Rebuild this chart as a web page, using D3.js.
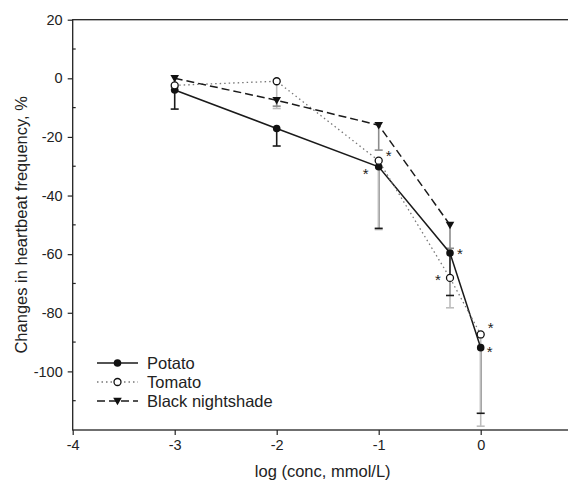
<!DOCTYPE html>
<html>
<head>
<meta charset="utf-8">
<script src="https://cdn.jsdelivr.net/npm/d3@7/dist/d3.min.js"></script>
<style>
  html, body { margin: 0; padding: 0; background: #fff; }
  svg { display: block; overflow: hidden; }
</style>
</head>
<body>
<div id="chart"></div>
<script>
// log10 of concentration (mmol/L)
const logConc = [-3, -2, -1, -0.301, 0];

const potatoVals = [-4, -17.1, -30.2, -59.6, -91.9];
const potatoErr = [6.5, 6, 21, 14.5, 22.4];
const potatoSig = [false, false, true, true, true];

const tomatoVals = [-2.4, -1, -28.1, -68.1, -87.4];
const tomatoErr = [1.5, 9.3, 23.5, 10.2, 31.3];
const tomatoSig = [false, false, true, true, true];

const nightVals = [0, -7.5, -16, -50, null];
const nightErr = [3, 2, 8.5, 8, null];
const nightSig = [false, false, false, false, false];

const xTicks = [-4, -3, -2, -1, 0];
const yTicks = [-100, -80, -60, -40, -20, 0, 20];
const yMinorTicks = [-110, -90, -70, -50, -30, -10, 10];

const W = 568, H = 483;
const margin = { top: 19.7, left: 72.7 };
const plotW = 510, plotH = 410.3;
const font = 'Liberation Sans, Arial, sans-serif';

const svg = d3.select('#chart').append('svg')
  .attr('width', W).attr('height', H)
  .attr('font-family', font);

const g = svg.append('g').attr('transform', `translate(${margin.left},${margin.top})`);

const x = d3.scaleLinear().domain([-4, 1]).range([0, plotW]);
const y = d3.scaleLinear().domain([-120, 20]).range([plotH, 0]);

// Frame (right side falls outside the picture)
g.append('rect').attr('width', plotW).attr('height', plotH)
  .attr('fill', 'none').attr('stroke', '#222').attr('stroke-width', 1.3);

// Axes
g.append('g').attr('transform', `translate(0,${plotH})`)
  .call(d3.axisBottom(x).tickValues(xTicks).tickSize(5).tickPadding(5).tickFormat(d => String(d)))
  .call(ax => ax.select('.domain').remove())
  .call(ax => ax.selectAll('line').attr('stroke', '#222').attr('stroke-width', 1.2))
  .call(ax => ax.selectAll('text').attr('fill', '#222').attr('font-size', 14.5).attr('font-family', font));

g.append('g')
  .call(d3.axisLeft(y).tickValues(yTicks).tickSize(5).tickPadding(5).tickFormat(d => String(d)))
  .call(ax => ax.select('.domain').remove())
  .call(ax => ax.selectAll('line').attr('stroke', '#222').attr('stroke-width', 1.2))
  .call(ax => ax.selectAll('text').attr('fill', '#222').attr('font-size', 14.5).attr('font-family', font));

// minor ticks inside
g.append('g')
  .selectAll('line').data(yMinorTicks).join('line')
  .attr('x1', 0).attr('x2', 3).attr('y1', d => y(d)).attr('y2', d => y(d))
  .attr('stroke', '#222').attr('stroke-width', 1.2);

// Axis titles
g.append('text').attr('x', plotW / 2 - 5).attr('y', plotH + 47)
  .attr('text-anchor', 'middle').attr('font-size', 16.5).attr('fill', '#222')
  .text('log (conc, mmol/L)');
svg.append('text').attr('transform', `translate(27,${margin.top + plotH / 2}) rotate(-90)`)
  .attr('text-anchor', 'middle').attr('font-size', 16.5).attr('fill', '#222')
  .text('Changes in heartbeat frequency, %');

const series = [
  { name: 'Potato', vals: potatoVals, err: potatoErr, sig: potatoSig,
    lineColor: '#1a1a1a', dash: null, lw: 1.5, errColor: '#1a1a1a', marker: 'filled' },
  { name: 'Tomato', vals: tomatoVals, err: tomatoErr, sig: tomatoSig,
    lineColor: '#777', dash: '1.5,3', lw: 1.3, errColor: '#bdbdbd', marker: 'open' },
  { name: 'Black nightshade', vals: nightVals, err: nightErr, sig: nightSig,
    lineColor: '#1a1a1a', dash: '8,4', lw: 1.5, errColor: '#8c8c8c', marker: 'triangle' }
];

// Star placement beside each point (dx, dy in px)
const starPos = {
  Potato: [null, null, [-13, 6], [10, 0], [9, 3]],
  Tomato: [null, null, [10, -6], [-12, 1], [10, -7]],
  'Black nightshade': [null, null, null, null, null]
};

// Error bars (downward); stems first, caps on top
const errGroup = g.append('g');
series.forEach(s => {
  logConc.forEach((c, i) => {
    if (s.vals[i] === null) return;
    const cx = x(c), y0 = y(s.vals[i]), y1 = Math.min(y(s.vals[i] - s.err[i]), plotH);
    errGroup.append('line').attr('x1', cx).attr('x2', cx).attr('y1', y0).attr('y2', y1)
      .attr('stroke', s.errColor).attr('stroke-width', 1.6);
  });
});
series.slice().reverse().forEach(s => {
  logConc.forEach((c, i) => {
    if (s.vals[i] === null) return;
    const cx = x(c), y1 = Math.min(y(s.vals[i] - s.err[i]), plotH);
    errGroup.append('line').attr('x1', cx - 4).attr('x2', cx + 4).attr('y1', y1).attr('y2', y1)
      .attr('stroke', s.errColor).attr('stroke-width', 1.6);
  });
});

// Lines
series.forEach(s => {
  const pts = logConc.map((c, i) => ({ c, v: s.vals[i] })).filter(p => p.v !== null);
  const line = d3.line().x(p => x(p.c)).y(p => y(p.v));
  g.append('path').datum(pts).attr('d', line)
    .attr('fill', 'none').attr('stroke', s.lineColor).attr('stroke-width', s.lw)
    .attr('stroke-dasharray', s.dash);
});

function drawMarker(sel, type, cx, cy) {
  if (type === 'filled') {
    sel.append('circle').attr('cx', cx).attr('cy', cy).attr('r', 3.8).attr('fill', '#111');
  } else if (type === 'open') {
    sel.append('circle').attr('cx', cx).attr('cy', cy).attr('r', 3.5)
      .attr('fill', '#fff').attr('stroke', '#111').attr('stroke-width', 1.3);
  } else {
    sel.append('path').attr('transform', `translate(${cx},${cy})`)
      .attr('d', 'M-4.3,-3.2L4.3,-3.2L0,4.3Z').attr('fill', '#111');
  }
}

// Markers and significance stars
series.forEach(s => {
  logConc.forEach((c, i) => {
    if (s.vals[i] === null) return;
    drawMarker(g, s.marker, x(c), y(s.vals[i]));
    const sp = starPos[s.name][i];
    if (s.sig[i] && sp) {
      g.append('text').attr('x', x(c) + sp[0]).attr('y', y(s.vals[i]) + sp[1] + 6)
        .attr('text-anchor', 'middle').attr('font-size', 15).attr('fill', '#222').text('*');
    }
  });
});

// Legend
const legend = svg.append('g').attr('transform', 'translate(97,363)');
series.forEach((s, i) => {
  const row = legend.append('g').attr('transform', `translate(0,${i * 19})`);
  row.append('line').attr('x1', 0).attr('x2', 41).attr('y1', 0).attr('y2', 0)
    .attr('stroke', s.lineColor).attr('stroke-width', s.lw).attr('stroke-dasharray', s.dash);
  drawMarker(row, s.marker, 20.5, 0);
  row.append('text').attr('x', 50).attr('y', 6).attr('font-size', 16.5).attr('fill', '#222').text(s.name);
});
</script>
</body>
</html>
